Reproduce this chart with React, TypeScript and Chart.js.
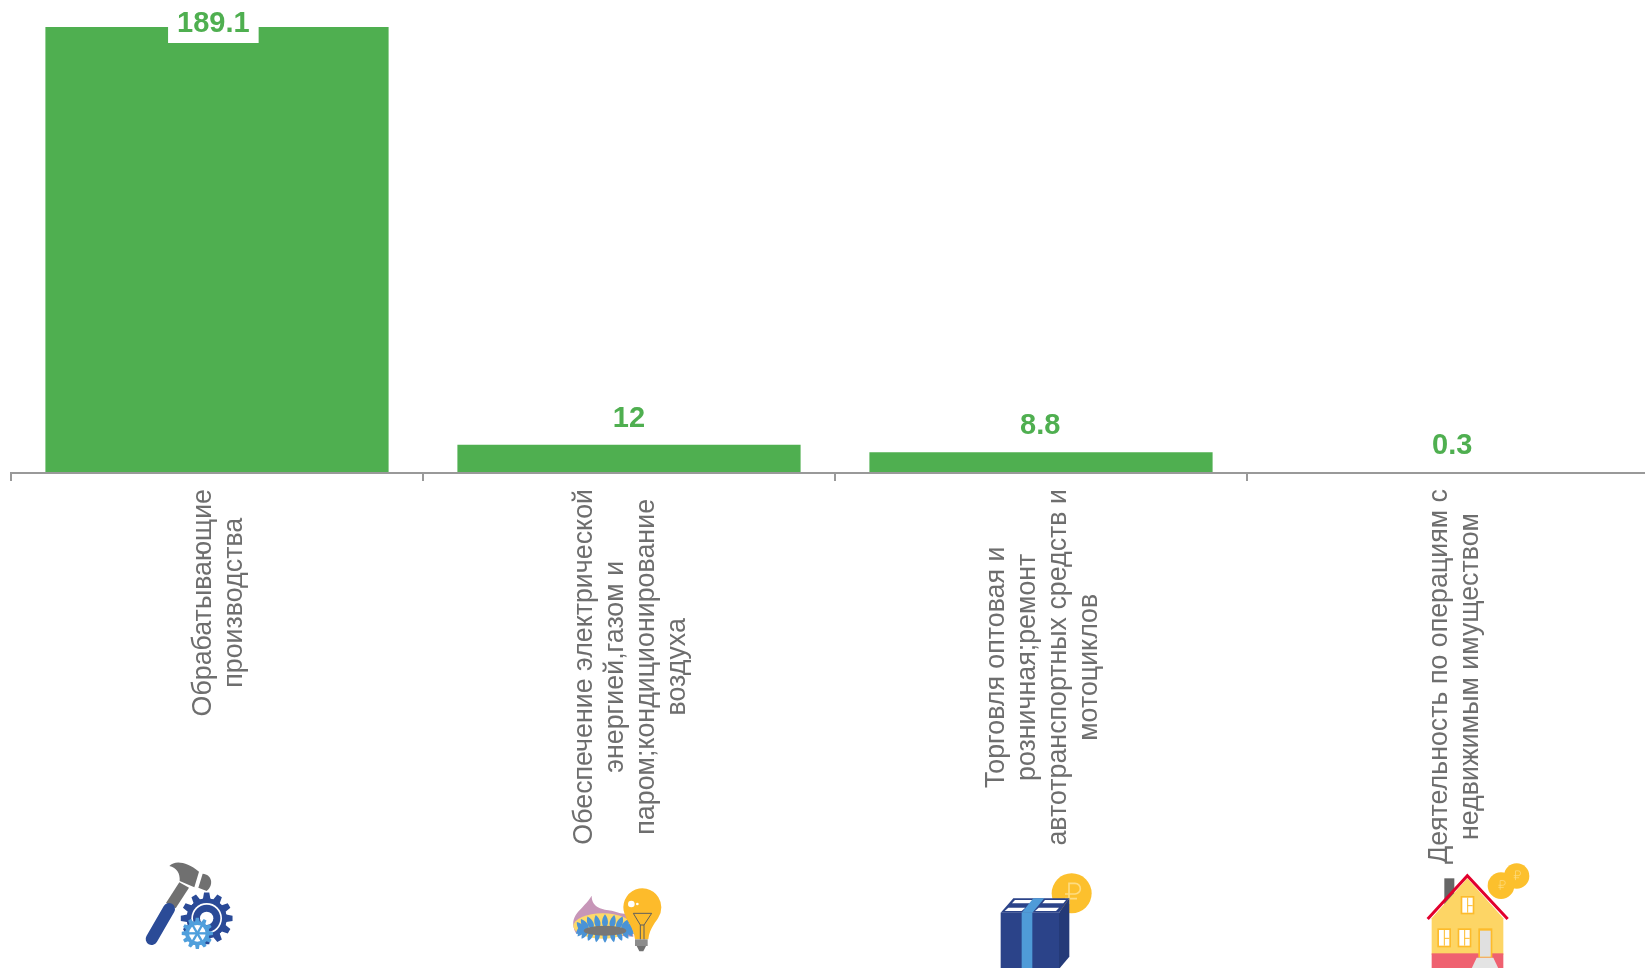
import React, { useEffect, useRef } from "react";
import { Chart, registerables } from "chart.js";

Chart.register(...registerables);

const categories: string[][] = [
  ["Обрабатывающие", "производства"],
  ["Обеспечение электрической", "энергией,газом и", "паром;кондиционирование", "воздуха"],
  ["Торговля оптовая и", "розничная;ремонт", "автотранспортных средств и", "мотоциклов"],
  ["Деятельность по операциям с", "недвижимым имуществом"],
];
const values = [189.1, 12, 8.8, 0.3];

const GREEN = "#4FAF50";
const TEXT = "#6E6E6E";
const FONT = '"Liberation Sans", Arial, sans-serif';

type C = CanvasRenderingContext2D;

function poly(ctx: C, pts: number[][], fill: string) {
  ctx.fillStyle = fill;
  ctx.beginPath();
  pts.forEach((p, i) => (i ? ctx.lineTo(p[0], p[1]) : ctx.moveTo(p[0], p[1])));
  ctx.closePath();
  ctx.fill();
}
function disc(ctx: C, x: number, y: number, r: number, fill: string) {
  ctx.fillStyle = fill;
  ctx.beginPath();
  ctx.arc(x, y, r, 0, Math.PI * 2);
  ctx.fill();
}
function gear(ctx: C, x: number, y: number, outer: number, inner: number, teeth: number, fill: string) {
  ctx.fillStyle = fill;
  ctx.beginPath();
  for (let i = 0; i < teeth; i++) {
    const a = (i / teeth) * Math.PI * 2;
    const w = (Math.PI / teeth) * 0.55;
    const pts: number[][] = [
      [inner, a - w * 1.3],
      [outer, a - w * 0.7],
      [outer, a + w * 0.7],
      [inner, a + w * 1.3],
    ];
    pts.forEach(([r, t], j) => {
      const px = x + r * Math.cos(t);
      const py = y + r * Math.sin(t);
      if (i === 0 && j === 0) ctx.moveTo(px, py);
      else ctx.lineTo(px, py);
    });
  }
  ctx.closePath();
  ctx.fill();
  disc(ctx, x, y, inner, fill);
}
function rouble(ctx: C, x: number, y: number, s: number, color: string) {
  ctx.strokeStyle = color;
  ctx.lineWidth = 5 * s;
  ctx.lineCap = "butt";
  ctx.beginPath();
  ctx.moveTo(x - 10 * s, y + 32 * s);
  ctx.lineTo(x - 10 * s, y - 30 * s);
  ctx.lineTo(x + 8 * s, y - 30 * s);
  ctx.arc(x + 8 * s, y - 14 * s, 16 * s, -Math.PI / 2, Math.PI / 2);
  ctx.lineTo(x - 22 * s, y + 2 * s);
  ctx.moveTo(x - 22 * s, y + 16 * s);
  ctx.lineTo(x + 14 * s, y + 16 * s);
  ctx.stroke();
}

function drawTools(ctx: C) {
  poly(ctx, [[133, 82], [162, 98], [122, 160], [93, 144]], "#707070");
  ctx.strokeStyle = "#2B4B97";
  ctx.lineWidth = 36;
  ctx.lineCap = "round";
  ctx.beginPath();
  ctx.moveTo(102, 162);
  ctx.lineTo(50, 252);
  ctx.stroke();
  ctx.lineCap = "butt";
  ctx.fillStyle = "#707070";
  ctx.beginPath();
  ctx.moveTo(103, 33);
  ctx.bezierCurveTo(120, 15, 155, 20, 192, 50);
  ctx.lineTo(178, 97);
  ctx.lineTo(134, 78);
  ctx.bezierCurveTo(136, 55, 125, 38, 103, 33);
  ctx.fill();
  ctx.beginPath();
  ctx.moveTo(203, 56);
  ctx.bezierCurveTo(230, 58, 238, 88, 215, 108);
  ctx.lineTo(190, 98);
  ctx.closePath();
  ctx.fill();
  gear(ctx, 215, 190, 78, 60, 12, "#2A4A97");
  disc(ctx, 215, 190, 46, "#FFFFFF");
  disc(ctx, 215, 190, 41, "#2A4A97");
  disc(ctx, 215, 190, 20, "#FFFFFF");
  gear(ctx, 187, 235, 47, 36, 12, "#4F9FDC");
  disc(ctx, 187, 235, 25, "#FFFFFF");
  ctx.strokeStyle = "#4F9FDC";
  ctx.lineWidth = 7;
  for (let i = 0; i < 6; i++) {
    const a = (i / 6) * Math.PI * 2;
    ctx.beginPath();
    ctx.moveTo(187, 235);
    ctx.lineTo(187 + 28 * Math.cos(a), 235 + 28 * Math.sin(a));
    ctx.stroke();
  }
}

function drawEnergy(ctx: C) {
  ctx.fillStyle = "#C796B8";
  ctx.beginPath();
  ctx.moveTo(48, 160);
  ctx.bezierCurveTo(20, 105, 70, 90, 95, 47);
  ctx.bezierCurveTo(95, 85, 130, 88, 155, 92);
  ctx.bezierCurveTo(175, 96, 185, 105, 215, 100);
  ctx.lineTo(220, 170);
  ctx.closePath();
  ctx.fill();
  ctx.fillStyle = "#FDD96A";
  ctx.beginPath();
  ctx.ellipse(128, 138, 88, 38, 0, 0, Math.PI * 2);
  ctx.fill();
  const drop = (x: number, y: number, rot: number, s: number) => {
    ctx.save();
    ctx.translate(x, y);
    ctx.rotate(rot);
    ctx.scale(s, s);
    ctx.fillStyle = "#4A93D6";
    ctx.beginPath();
    ctx.moveTo(0, -16);
    ctx.bezierCurveTo(10, -4, 9, 14, 0, 14);
    ctx.bezierCurveTo(-9, 14, -10, -4, 0, -16);
    ctx.fill();
    ctx.restore();
  };
  for (let i = 0; i < 20; i++) {
    const a = (i / 20) * Math.PI * 2;
    const up = Math.sin(a) < 0;
    drop(135 + 76 * Math.cos(a), 150 + (up ? 27 : 22) * Math.sin(a), up ? Math.cos(a) * 0.7 : Math.PI - Math.cos(a) * 0.7, up ? 1.25 : 1);
  }
  ctx.fillStyle = "#777777";
  ctx.beginPath();
  ctx.ellipse(135, 152, 64, 15, 0, 0, Math.PI * 2);
  ctx.fill();
  ctx.fillStyle = "#FDBB2B";
  ctx.beginPath();
  ctx.arc(247, 82, 57, Math.PI * 0.82, Math.PI * 0.18);
  ctx.bezierCurveTo(292, 120, 268, 145, 265, 178);
  ctx.lineTo(225, 178);
  ctx.bezierCurveTo(222, 145, 200, 120, 197, 110);
  ctx.closePath();
  ctx.fill();
  ctx.fillStyle = "#8C8C8C";
  ctx.fillRect(225, 178, 38, 20);
  poly(ctx, [[230, 198], [258, 198], [250, 214], [238, 214]], "#707070");
  ctx.strokeStyle = "#5E5E5E";
  ctx.lineWidth = 3;
  ctx.beginPath();
  ctx.moveTo(220, 100);
  ctx.lineTo(275, 100);
  ctx.lineTo(252, 135);
  ctx.lineTo(252, 178);
  ctx.moveTo(220, 100);
  ctx.lineTo(241, 135);
  ctx.lineTo(241, 178);
  ctx.moveTo(241, 135);
  ctx.lineTo(252, 135);
  ctx.stroke();
  disc(ctx, 214, 72, 10, "#FFFFFF");
  disc(ctx, 232, 72, 4, "#FFFFFF");
}

function drawBox(ctx: C) {
  disc(ctx, 245, 85, 60, "#FCC02D");
  rouble(ctx, 247, 85, 1, "#FDDC82");
  poly(ctx, [[32, 143], [70, 100], [238, 100], [207, 143]], "#2B4389");
  poly(ctx, [[207, 143], [238, 100], [238, 275], [207, 312]], "#243A78");
  ctx.fillStyle = "#2B4389";
  ctx.fillRect(32, 143, 175, 170);
  poly(ctx, [[44, 138], [95, 138], [106, 128], [55, 128]], "#FFFFFF");
  poly(ctx, [[135, 138], [198, 138], [207, 128], [146, 128]], "#FFFFFF");
  poly(ctx, [[66, 115], [122, 115], [130, 105], [75, 105]], "#FFFFFF");
  poly(ctx, [[157, 115], [220, 115], [228, 105], [165, 105]], "#FFFFFF");
  poly(ctx, [[95, 143], [127, 143], [163, 100], [130, 100]], "#4F9BD8");
  ctx.fillStyle = "#4F9BD8";
  ctx.fillRect(95, 143, 32, 170);
}

function drawHouse(ctx: C) {
  ctx.fillStyle = "#666666";
  ctx.fillRect(88, 55, 30, 80);
  poly(ctx, [[50, 175], [157, 55], [265, 175], [265, 285], [50, 285]], "#FDD565");
  ctx.fillStyle = "#EF6170";
  ctx.fillRect(50, 280, 215, 45);
  ctx.strokeStyle = "#E2002D";
  ctx.lineWidth = 9;
  ctx.lineJoin = "miter";
  ctx.beginPath();
  ctx.moveTo(38, 177);
  ctx.lineTo(157, 47);
  ctx.lineTo(278, 177);
  ctx.stroke();
  const win = (x: number, y: number, w: number, h: number) => {
    ctx.fillStyle = "#FDBB2B";
    ctx.fillRect(x, y, w, h);
    ctx.fillStyle = "#FFFFFF";
    ctx.fillRect(x + 5, y + 5, w - 10, h - 10);
    ctx.fillStyle = "#FDBB2B";
    ctx.fillRect(x + w / 2 - 1, y + 5, 3, h - 10);
    ctx.fillRect(x + w / 2, y + h / 2, w / 2 - 5, 3);
  };
  win(137, 108, 41, 55);
  win(67, 205, 41, 57);
  win(128, 205, 41, 57);
  ctx.fillStyle = "#FDBB2B";
  ctx.fillRect(190, 205, 42, 88);
  ctx.fillStyle = "#E0E0E0";
  ctx.fillRect(195, 212, 32, 78);
  poly(ctx, [[185, 293], [235, 293], [250, 325], [170, 325]], "#E4E4E4");
  disc(ctx, 305, 48, 38, "#FCC02D");
  rouble(ctx, 306, 46, 0.45, "#FDDC82");
  disc(ctx, 258, 77, 40, "#FCC02D");
  rouble(ctx, 260, 75, 0.45, "#FDDC82");
}

const iconPainters = [drawTools, drawEnergy, drawBox, drawHouse];
const iconOffsets = [[-82, 855], [-69, 880], [-51, 865], [-38, 860]];

const labelsPlugin = {
  id: "labelsAndIcons",
  afterDatasetsDraw(chart: any) {
    const ctx: C = chart.ctx;
    const x = chart.scales.x;
    const meta = chart.getDatasetMeta(0);

    // value labels
    ctx.save();
    ctx.font = `bold 29px ${FONT}`;
    ctx.textAlign = "center";
    ctx.textBaseline = "middle";
    meta.data.forEach((bar: any, i: number) => {
      const text = String(values[i]);
      const cy = Math.max(bar.y - 27, 23);
      const tw = ctx.measureText(text).width;
      const dx = -(tw - 32) * 0.09;
      const w = tw + 18;
      ctx.fillStyle = "#FFFFFF";
      ctx.fillRect(bar.x + dx - w / 2, cy - 20, w, 40);
      ctx.fillStyle = GREEN;
      ctx.fillText(text, bar.x + dx, cy + 1);
    });
    ctx.restore();

    // category labels with centred lines, rotated
    ctx.save();
    ctx.font = `26.8px ${FONT}`;
    ctx.fillStyle = TEXT;
    ctx.textAlign = "center";
    ctx.textBaseline = "middle";
    categories.forEach((lines, i) => {
      const px = x.getPixelForTick(i);
      const maxW = Math.max(...lines.map((l) => ctx.measureText(l).width));
      const cy = chart.chartArea.bottom + 16 + maxW / 2;
      lines.forEach((line, j) => {
        ctx.save();
        ctx.translate(px + (j - (lines.length - 1) / 2) * 31.2 + 2, cy);
        ctx.rotate(-Math.PI / 2);
        ctx.fillText(line, 0, 0);
        ctx.restore();
      });
    });
    ctx.restore();

    // icons
    iconPainters.forEach((paint, i) => {
      ctx.save();
      ctx.translate(x.getPixelForTick(i) + iconOffsets[i][0], iconOffsets[i][1]);
      ctx.scale(1 / 3, 1 / 3);
      paint(ctx);
      ctx.restore();
    });
  },
};

export default function App() {
  const ref = useRef<HTMLCanvasElement>(null);
  useEffect(() => {
    document.body.style.margin = "0";
    document.body.style.overflow = "hidden";
    const chart = new Chart(ref.current!, {
      type: "bar",
      data: {
        labels: categories.map((c) => c.join(" ")),
        datasets: [
          {
            data: values,
            backgroundColor: GREEN,
            barPercentage: 1,
            categoryPercentage: 0.833,
          },
        ],
      },
      options: {
        animation: false,
        responsive: false,
        devicePixelRatio: 1,
        layout: { padding: { top: 27, left: 11, right: 0, bottom: 0 } },
        plugins: { legend: { display: false }, tooltip: { enabled: false } },
        scales: {
          y: { display: false, min: 0, max: 189.1 },
          x: {
            afterFit: (s: any) => {
              s.height = 495;
            },
            ticks: { display: false },
            border: { display: true, color: "#999999", width: 2, z: 1 },
            grid: {
              offset: true,
              drawOnChartArea: false,
              drawTicks: true,
              tickLength: 8,
              color: "#999999",
              lineWidth: 2,
            },
          },
        },
      },
      plugins: [labelsPlugin],
    } as any);
    return () => chart.destroy();
  }, []);
  return (
    <div style={{ width: 1645, height: 968, overflow: "hidden", position: "relative" }}>
      <canvas ref={ref} width={1659} height={968} style={{ display: "block" }} />
    </div>
  );
}
